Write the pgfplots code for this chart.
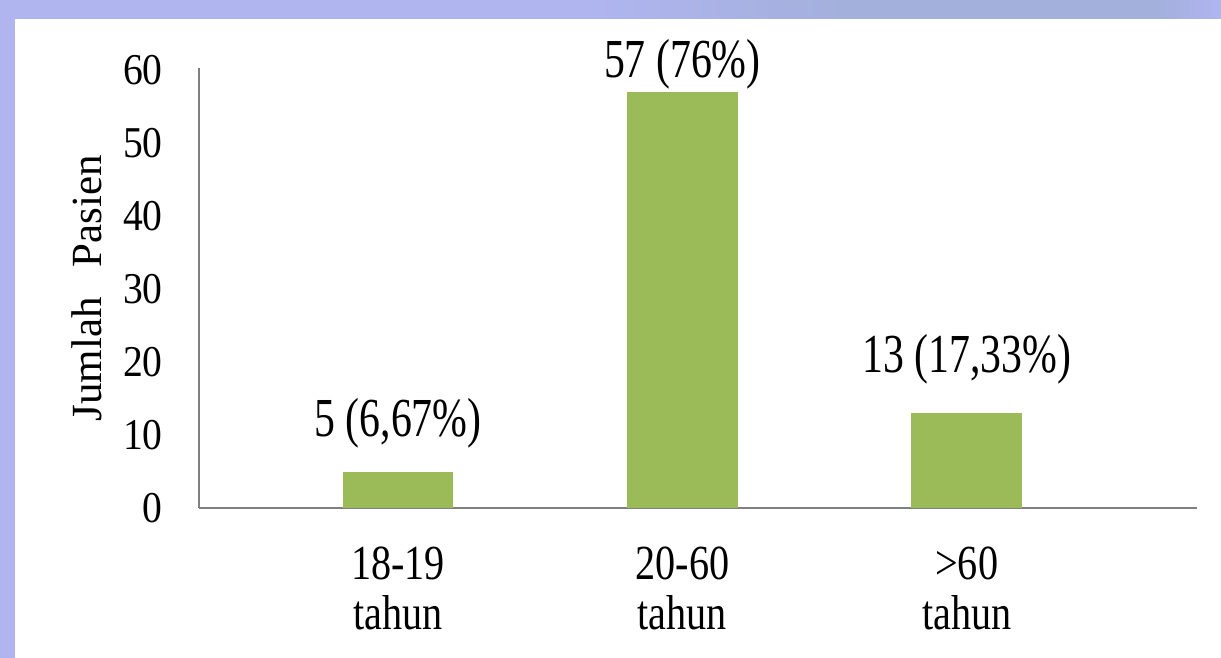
\documentclass[border=0pt]{standalone}
\usepackage{pgfplots}
\pgfplotsset{compat=1.18}
\usepackage{fontspec}
\setmainfont{Liberation Serif}
\newfontfamily\fdata[FakeStretch=0.76]{Liberation Serif}
\newfontfamily\fxtick[FakeStretch=0.82]{Liberation Serif}
\newfontfamily\fytick[FakeStretch=0.9]{Liberation Serif}
\definecolor{lav}{RGB}{176,181,240}
\definecolor{lavgray}{RGB}{164,176,220}
\definecolor{bargreen}{RGB}{155,187,89}
\definecolor{axgray}{RGB}{128,128,132}
\begin{document}
\begin{tikzpicture}
\useasboundingbox (0,0) rectangle (610.5pt,329pt);
\fill[lav] (0,0) rectangle (610.5pt,329pt);
\shade[left color=lav, right color=lavgray] (290pt,319.5pt) rectangle (420pt,329pt);
\fill[lavgray] (420pt,319.5pt) rectangle (580pt,329pt);
\shade[left color=lavgray, right color=lav] (580pt,319.5pt) rectangle (610.5pt,329pt);
\fill[white] (7.5pt,0) rectangle (610.5pt,319.5pt);
\begin{axis}[
  at={(99.5pt,75pt)}, anchor=south west,
  scale only axis, width=499pt, height=220pt,
  xmin=-0.70, xmax=2.81, ymin=0, ymax=60.3,
  axis x line*=bottom, axis y line*=left,
  axis line style={axgray, line width=1.1pt, -},
  major tick length=0pt,
  ytick={0,10,...,60},
  xtick={0,1,2},
  xticklabels={{18-19\\tahun},{20-60\\tahun},{>60\\tahun}},
  xticklabel style={align=center, anchor=north, inner sep=0pt, yshift=-19.5pt,
    font=\fxtick\fontsize{24.5pt}{25pt}\selectfont},
  yticklabel style={anchor=east, inner sep=0pt, xshift=-18pt,
    font=\fytick\fontsize{22pt}{26pt}\selectfont},
  /pgf/number format/assume math mode=true,
  ylabel={Jumlah\hspace{0.7em}Pasien},
  ylabel style={font=\fontsize{21.5pt}{26pt}\selectfont, at={(axis description cs:-0.112,0.5)}, anchor=center},
  clip=false,
  point meta=explicit symbolic,
  nodes near coords,
]
\addplot[ybar, bar width=0.39, fill=bargreen, draw=none,
  nodes near coords style={anchor=base, inner sep=0pt, yshift=17.5pt, text=black,
    font=\fdata\fontsize{27.5pt}{30pt}\selectfont}]
  coordinates {(0,5) [5 (6,67\%)]};
\addplot[ybar, bar width=0.39, fill=bargreen, draw=none,
  nodes near coords style={anchor=base, inner sep=0pt, yshift=7.5pt, text=black,
    font=\fdata\fontsize{27.5pt}{30pt}\selectfont}]
  coordinates {(1,57) [57 (76\%)]};
\addplot[ybar, bar width=0.39, fill=bargreen, draw=none,
  nodes near coords style={anchor=base, inner sep=0pt, yshift=20.5pt, text=black,
    font=\fdata\fontsize{27.5pt}{30pt}\selectfont}]
  coordinates {(2,13) [13 (17,33\%)]};
\end{axis}
\end{tikzpicture}
\end{document}
